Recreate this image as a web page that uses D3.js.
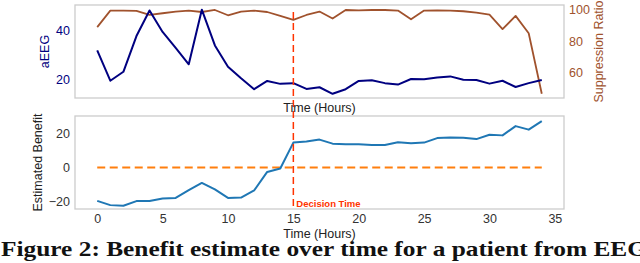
<!DOCTYPE html>
<html>
<head>
<meta charset="utf-8">
<script src="https://cdn.jsdelivr.net/npm/d3@7"></script>
<style>
  html, body { margin: 0; padding: 0; background: #fff; }
  svg { display: block; font-family: "Liberation Sans", Arial, sans-serif; }
</style>
</head>
<body>
<svg id="chart" width="640" height="263"></svg>
<script>
// hours since start
const hours = [0, 1, 2, 3, 4, 5, 6, 7, 8, 9, 10, 11, 12, 13, 14, 15, 16, 17,
  18, 19, 20, 21, 22, 23, 24, 25, 26, 27, 28, 29, 30, 31, 32, 33, 34];

const aeeg = [32, 19.4, 23.1, 37.9, 48.5, 39.6, 33, 26.2, 48.8, 34, 25.2, 20.4,
  15.9, 19.3, 18.1, 18.4, 16, 16.7, 14, 15.9, 19.3, 19.6, 18.4, 17.8, 20.1, 20,
  20.7, 21.2, 19.8, 19.7, 18.2, 19.4, 16.8, 18.4, 19.7];

const suppression = [89, 99.6, 99.6, 99.4, 96.8, 97.9, 98.9, 99.6, 98.7, 100,
  96.6, 98.9, 99.6, 98.7, 96.2, 93.6, 96.8, 99, 94.5, 100, 99.8, 100, 100, 99.6,
  94, 99.6, 99.8, 99.6, 99.2, 98.3, 97, 87.7, 96.2, 85.1, 46.2];

const benefit = [-19.8, -22.3, -22.7, -19.9, -19.9, -18.4, -18, -13.4, -9.1, -13,
  -18, -17.8, -13.6, -2.6, -0.6, 14.8, 15.4, 16.6, 14.2, 13.8, 13.8, 13.4, 13.4,
  15, 14.4, 14.8, 17.5, 17.9, 17.7, 16.9, 19.5, 19.1, 24.6, 22.5, 27.6];

const decisionTime = 15;
const aeegTicks = [20, 40];
const suppTicks = [60, 80, 100];
const benefitTicks = [-20, 0, 20];
const hourTicks = [0, 5, 10, 15, 20, 25, 30, 35];
const caption = 'Figure 2: Benefit estimate over time for a patient from EEG';

const svg = d3.select('#chart');
const left = 75, right = 564;
const top1 = 5, bot1 = 98, top2 = 116, bot2 = 209;

const x = d3.scaleLinear().domain([-1.7, 35.7]).range([left, right]);
const yA = d3.scaleLinear().domain([12.25, 50.75]).range([bot1, top1]);
const yS = d3.scaleLinear().domain([43.5, 103.2]).range([bot1, top1]);
const yB = d3.scaleLinear().domain([-24.6, 30.6]).range([bot2, top2]);

const navy = '#000080', brown = '#a0522d', blue = '#1f77b4', orange = '#ff7f0e', red = '#ff3300';

function frame(t, b) {
  svg.append('rect').attr('x', left).attr('y', t).attr('width', right - left).attr('height', b - t)
    .attr('fill', 'none').attr('stroke', '#cccccc').attr('stroke-width', 1.3);
}
frame(top1, bot1);
frame(top2, bot2);

function yAxis(scale, ticks, xpos, side, color) {
  const ax = side === 'left' ? d3.axisLeft(scale) : d3.axisRight(scale);
  const g = svg.append('g').attr('transform', `translate(${xpos},0)`)
    .call(ax.tickValues(ticks).tickSize(0).tickPadding(5).tickFormat(d3.format('d')));
  g.select('.domain').remove();
  g.selectAll('text').attr('font-size', 12.5).attr('fill', color)
    .text(d => d < 0 ? '\u2212' + Math.abs(d) : d);
}
yAxis(yA, aeegTicks, left, 'left', navy);
yAxis(yS, suppTicks, right, 'right', brown);
yAxis(yB, benefitTicks, left, 'left', '#333');

const xg = svg.append('g').attr('transform', `translate(0,${bot2})`)
  .call(d3.axisBottom(x).tickValues(hourTicks).tickSize(0).tickPadding(5));
xg.select('.domain').remove();
xg.selectAll('text').attr('font-size', 12.5).attr('fill', '#333');

function line(scale, vals, color, w, dash) {
  const p = svg.append('path').datum(hours)
    .attr('fill', 'none').attr('stroke', color).attr('stroke-width', w)
    .attr('stroke-linejoin', 'round')
    .attr('d', d3.line().x(d => x(d)).y((d, i) => scale(vals[i])));
  if (dash) p.attr('stroke-dasharray', dash);
}
line(yS, suppression, brown, 1.8);
line(yA, aeeg, navy, 2);
line(yB, hours.map(() => 0), orange, 2, '8,4.5');
line(yB, benefit, blue, 2);

// decision time marker across both panels
svg.append('line').attr('x1', x(decisionTime)).attr('x2', x(decisionTime))
  .attr('y1', 12).attr('y2', 209).attr('stroke', red).attr('stroke-width', 1.5)
  .attr('stroke-dasharray', '7,4');
svg.append('text').attr('x', x(decisionTime) + 3).attr('y', 207)
  .attr('font-size', 9.5).attr('font-weight', 'bold').attr('fill', red).text('Decision Time');

// axis labels
function label(txt, cx, cy, rot, color) {
  svg.append('text').attr('transform', `translate(${cx},${cy}) rotate(${rot})`)
    .attr('text-anchor', 'middle').attr('font-size', 12.5).attr('fill', color).text(txt);
}
label('Time (Hours)', (left + right) / 2, 112, 0, '#222');
label('Time (Hours)', (left + right) / 2, 238, 0, '#222');
label('aEEG', 49, (top1 + bot1) / 2, -90, navy);
label('Suppression Ratio', 603, (top1 + bot1) / 2, -90, brown);
label('Estimated Benefit', 42, (top2 + bot2) / 2, -90, '#222');

svg.append('text').attr('x', 1).attr('y', 256)
  .attr('font-family', '"Liberation Serif", "DejaVu Serif", serif')
  .attr('font-weight', 'bold').attr('font-size', 21.5).attr('fill', '#111')
  .attr('textLength', 646).attr('lengthAdjust', 'spacingAndGlyphs')
  .text(caption);
</script>
</body>
</html>
